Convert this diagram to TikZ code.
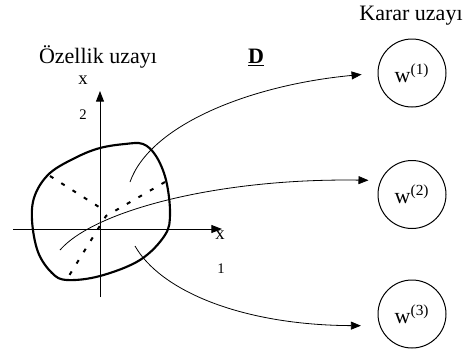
\documentclass[tikz,border=0pt]{standalone}
\usepackage{fontspec}
\setmainfont{Liberation Serif}
\usetikzlibrary{arrows.meta}

\tikzset{every picture/.style={line width=0.75pt}}
\tikzset{
  sinif/.style={draw, circle, minimum size=51pt, inner sep=0pt, font=\fontsize{16.5}{20}\selectfont},
  baslik/.style={anchor=base, inner sep=0.75pt, font=\fontsize{16.5}{20}\selectfont},
  etiket/.style={anchor=base, inner sep=0.75pt, font=\fontsize{14}{16}\selectfont},
  indis/.style={anchor=base, inner sep=0.75pt, font=\fontsize{11}{13}\selectfont},
  eksen/.style={-{Triangle[length=8pt,width=6pt]}},
  esleme/.style={line width=0.6pt, -{Triangle[length=7.5pt,width=6pt]}},
  noktali/.style={line width=1.5pt, dash pattern={on 3pt off 7pt}},
}

\begin{document}
\begin{tikzpicture}[x=0.75pt,y=0.75pt,yscale=-1,xscale=1]
\useasboundingbox (0,0) rectangle (472,354);

%Shape: Circle [id:w1] 
\node[sinif] (w1) at (412,73) {w\textsuperscript{(1)}};
%Shape: Circle [id:w2] 
\node[sinif] (w2) at (412,194.5) {w\textsuperscript{(2)}};
%Shape: Circle [id:w3] 
\node[sinif] (w3) at (412,314) {w\textsuperscript{(3)}};

%Straight Lines [id:eksen1] 
\coordinate (xbas) at (13,229);
\coordinate (xuc) at (222,229);
\draw[eksen] (xbas) -- (xuc);
%Straight Lines [id:eksen2] 
\coordinate (ybas) at (100,297);
\coordinate (yuc) at (100,91);
\draw[eksen] (ybas) -- (yuc);

%Shape: Blob [id:bolge] 
\draw[line width=1.6pt] plot[smooth cycle, tension=0.6] coordinates {
  (50,173) (77,157) (100,148) (125,144) (143,144) (156,156) (166,180)
  (170,213) (165,235) (140,260) (100,276) (67,280) (52,273) (38,252)
  (32,220) (35,195)};

%Straight Lines [id:sinir1] 
\draw[noktali] (50,176) -- (99,207);
%Straight Lines [id:sinir2] 
\draw[noktali] (165,182) -- (106,216) -- (67,279);

%Curve Lines [id:esleme1] 
\coordinate (b1) at (130,182);
\draw[esleme, shorten >=12pt] (b1) .. controls (150,125) and (250,85) .. (w1.west);
%Curve Lines [id:esleme2] 
\coordinate (b2) at (60,250);
\draw[esleme, shorten >=9pt] (b2) .. controls (95,210) and (220,178) .. (w2.156);
%Curve Lines [id:esleme3] 
\coordinate (b3) at (135,246);
\draw[esleme, shorten >=14pt] (b3) .. controls (160,290) and (240,325) .. (w3.200);

% Text Node
\node[baslik] (ozellik) at (98,63) {Özellik uzayı};
% Text Node
\node[baslik] (karar) at (411,20.5) {Karar uzayı};
% Text Node
\node[baslik] (harfD) at (256,63) {\underline{\textbf{D}}};
% Text Node
\node[etiket] (x2) at (83,84) {x};
% Text Node
\node[indis] (i2) at (83,119) {2};
% Text Node
\node[etiket] (x1) at (220,239) {x};
% Text Node
\node[indis] (i1) at (221,273) {1};

\end{tikzpicture}
\end{document}
